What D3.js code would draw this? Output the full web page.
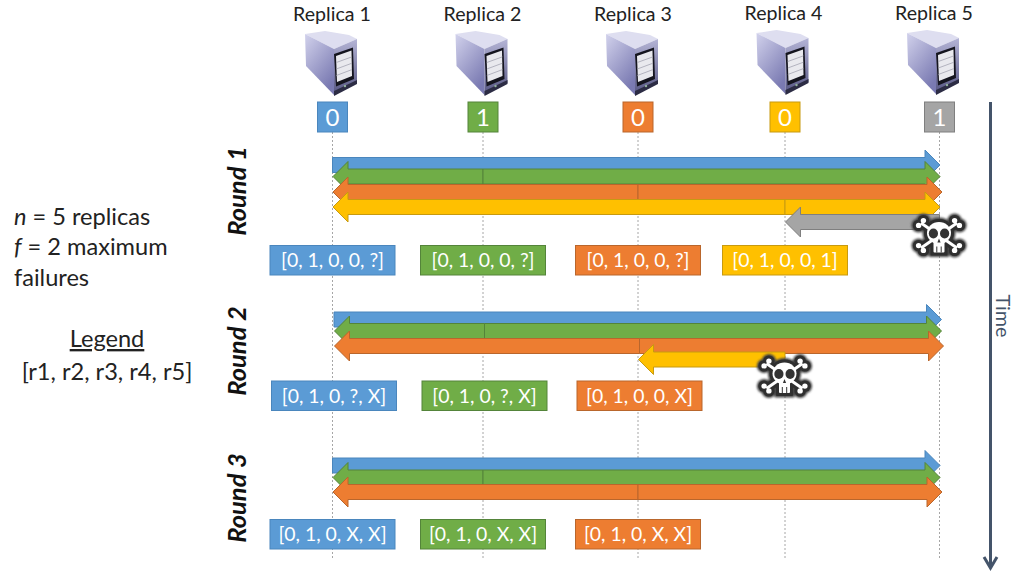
<!DOCTYPE html>
<html>
<head>
<meta charset="utf-8">
<script src="https://cdn.jsdelivr.net/npm/d3@7"></script>
<style>
  body { margin: 0; background: #fff; }
  text { font-family: Lato, "Open Sans", sans-serif; }
</style>
</head>
<body>
<svg id="svgRounds" width="1024" height="576"></svg>
<script>
// chart data
const replicas = ["Replica 1", "Replica 2", "Replica 3", "Replica 4", "Replica 5"];
const initialValues = [0, 1, 0, 0, 1];
const roundNames = ["Round 1", "Round 2", "Round 3"];
// [sender, receiver] index pairs, one arrow each
const round1Messages = [[0, 4], [1, 0], [1, 4], [2, 0], [2, 4], [3, 0], [3, 4], [4, 3]];
const round2Messages = [[0, 4], [1, 0], [1, 4], [2, 0], [2, 4], [3, 2]];
const round3Messages = [[0, 4], [1, 0], [1, 4], [2, 0], [2, 4]];
const round1Views = ["[0, 1, 0, 0, ?]", "[0, 1, 0, 0, ?]", "[0, 1, 0, 0, ?]", "[0, 1, 0, 0, 1]"];
const round2Views = ["[0, 1, 0, ?, X]", "[0, 1, 0, ?, X]", "[0, 1, 0, 0, X]"];
const round3Views = ["[0, 1, 0, X, X]", "[0, 1, 0, X, X]", "[0, 1, 0, X, X]"];
const failedReplica = [4, 3, null];

// layout
const fills = ["#5b9bd5", "#70ad47", "#ed7d31", "#ffc000", "#a5a5a5"];
const strokes = ["#4a86bd", "#54843a", "#b9662c", "#c79a10", "#7f7f7f"];
const replicaXs = [332.5, 483, 638, 785, 939.5];
const arrowRows = [[165, 176.5, 192, 207, 222], [319.5, 331, 346, 359.5], [465.5, 477.5, 492]];
const roundShift = [0, 1.5, 0];
const viewBoxTop = [245.5, 381, 519.5];
const skullY = [234.5, 375];
const roundLabelY = [191, 351, 498];

const svg = d3.select('#svgRounds');
const x = d3.scaleOrdinal().domain(replicas.map((d, i) => i)).range(replicaXs);
const headerX = d3.scalePoint().domain(replicas.map((d, i) => i)).range([332, 934]);

const defs = svg.append('defs');

const leftGrad = defs.append('linearGradient').attr('id', 'serverSide')
    .attr('x1', 0).attr('y1', 0).attr('x2', 0.6).attr('y2', 1);
leftGrad.append('stop').attr('offset', 0).attr('stop-color', '#d2d2ec');
leftGrad.append('stop').attr('offset', 1).attr('stop-color', '#7a7ab2');

const frontGrad = defs.append('linearGradient').attr('id', 'serverFront')
    .attr('x1', 0).attr('y1', 0).attr('x2', 0).attr('y2', 1);
frontGrad.append('stop').attr('offset', 0).attr('stop-color', '#b4b4d6');
frontGrad.append('stop').attr('offset', 1).attr('stop-color', '#565682');

defs.append('filter').attr('id', 'skullBlur')
    .attr('x', '-20%').attr('y', '-20%').attr('width', '140%').attr('height', '140%')
    .append('feGaussianBlur').attr('stdDeviation', 1.1);

// dashed replica timelines
svg.append('g').selectAll('line')
    .data(replicas.map((d, i) => i))
    .join('line')
    .attr('x1', d => x(d))
    .attr('x2', d => x(d))
    .attr('y1', 132)
    .attr('y2', 560)
    .style('stroke', '#a6a6a6')
    .style('stroke-width', 1)
    .style('stroke-dasharray', '2 2');

// header labels and servers
svg.append('g').selectAll('text')
    .data(replicas)
    .join('text')
    .attr('x', (d, i) => headerX(i))
    .attr('y', (d, i) => i > 2 ? 19.5 : 21)
    .attr('text-anchor', 'middle')
    .style('font-size', '19.6px')
    .style('fill', '#222')
    .text(d => d);

replicas.forEach((d, i) => drawServer(headerX(i) - 27, i > 2 ? 30 : 31));

function drawServer(px, py) {
    const g = svg.append('g').attr('transform', `translate(${px}, ${py})`);
    const shape = (points, fill) => g.append('path').attr('d', d3.line()(points) + 'Z').style('fill', fill);

    shape([[0, 3], [20, 0], [44, 4], [52, 8], [29, 18]], '#dedef0');
    shape([[0, 3], [29, 18], [29, 64], [1, 35]], 'url(#serverSide)');
    shape([[29, 18], [52, 8], [52, 52], [29, 64]], 'url(#serverFront)');
    shape([[29, 60], [52, 49], [52, 53], [29, 65]], '#2c2c44');
    // screen bezel and panel
    shape([[29, 23], [48, 16.5], [49, 48], [31, 55.5]], '#15151f');
    shape([[31, 25], [46.5, 19.5], [47, 45], [32, 51]], '#e9e9ee');
    [0.25, 0.5, 0.75].forEach(t => {
        g.append('line')
            .attr('x1', 31.3).attr('y1', 25 + 26 * t)
            .attr('x2', 46.8).attr('y2', 19.5 + 25.5 * t)
            .style('stroke', '#a5a5b2')
            .style('stroke-width', 0.8);
    });
    g.append('circle').attr('cx', 40).attr('cy', 55).attr('r', 1.2).style('fill', '#8fae9a');
}

// initial values
const valueBoxes = svg.append('g').selectAll('g')
    .data(initialValues)
    .join('g')
    .attr('transform', (d, i) => `translate(${x(i)}, 117)`);

valueBoxes.append('rect')
    .attr('x', -15).attr('y', -15)
    .attr('width', 30).attr('height', 30)
    .style('fill', (d, i) => fills[i])
    .style('stroke', (d, i) => strokes[i]);

valueBoxes.append('text')
    .attr('y', 8.5)
    .attr('text-anchor', 'middle')
    .style('font-size', '24px')
    .style('fill', '#fff')
    .text(d => d);

// arrows, one round at a time
function arrowPath(m, round) {
    const sender = m[0], receiver = m[1];
    const shift = failedReplica[round] === sender ? 0 : roundShift[round];
    const c = arrowRows[round][sender];
    const dir = receiver > sender ? 1 : -1;
    const tail = x(sender) + shift;
    const tip = x(receiver) + shift + (dir > 0 && sender === 2 ? 2 : 0) + 0.5;
    const base = tip - dir * 15;
    return d3.line()([
        [tail, c - 7.5], [base, c - 7.5], [base, c - 15], [tip, c],
        [base, c + 15], [base, c + 7.5], [tail, c + 7.5]
    ]) + 'Z';
}

[round1Messages, round2Messages, round3Messages].forEach((messages, round) => {
    svg.append('g').selectAll('path')
        .data(messages)
        .join('path')
        .attr('d', d => arrowPath(d, round))
        .style('fill', d => fills[d[0]])
        .style('stroke', d => strokes[d[0]])
        .style('stroke-width', 1);
});

// views after each round
[round1Views, round2Views, round3Views].forEach((views, round) => {
    const boxes = svg.append('g').selectAll('g')
        .data(views)
        .join('g')
        .attr('transform', (d, i) => `translate(${x(i) + roundShift[round]}, ${viewBoxTop[round]})`);

    boxes.append('rect')
        .attr('x', -62.5).attr('y', 0)
        .attr('width', 125).attr('height', 29.5)
        .style('fill', (d, i) => fills[i])
        .style('stroke', (d, i) => strokes[i]);

    boxes.append('text')
        .attr('y', 21.5)
        .attr('text-anchor', 'middle')
        .style('font-size', '19.4px')
        .style('fill', '#fff')
        .text(d => d);
});

// skulls on the failed replicas
failedReplica.forEach((r, round) => {
    if(r !== null) drawSkull(x(r) - 0.5, skullY[round]);
});

function drawSkull(cx, cy) {
    const g = svg.append('g').attr('transform', `translate(${cx}, ${cy})`);
    const bones = [[-1, -1], [1, -1], [-1, 1], [1, 1]];

    const layer = (parent, color, grow) => {
        bones.forEach(b => {
            const ex = b[0] * 18, ey = b[1] * 12.5 + 1;
            parent.append('line')
                .attr('x1', 0).attr('y1', 1).attr('x2', ex).attr('y2', ey)
                .style('stroke', color)
                .style('stroke-width', 3 + grow * 2);
            parent.append('circle').attr('cx', ex - b[0] * 2.4).attr('cy', ey + b[1] * 2.4).attr('r', 2.7 + grow).style('fill', color);
            parent.append('circle').attr('cx', ex + b[0] * 2.4).attr('cy', ey - b[1] * 2.4).attr('r', 2.7 + grow).style('fill', color);
        });
        parent.append('ellipse').attr('cx', 0).attr('cy', -1.5).attr('rx', 12 + grow).attr('ry', 11 + grow).style('fill', color);
        parent.append('rect').attr('x', -5.5 - grow).attr('y', 5).attr('width', 11 + grow * 2).attr('height', 13 + grow).attr('rx', 1).style('fill', color);
    };

    layer(g.append('g').style('filter', 'url(#skullBlur)'), '#444', 4.5);
    layer(g.append('g'), '#2f2f2f', 3);
    layer(g.append('g'), '#ffffff', 0);

    [-1, 1].forEach(s => {
        g.append('ellipse').attr('cx', s * 5.6).attr('cy', -1).attr('rx', 4.6).attr('ry', 5).style('fill', '#333');
    });
    g.append('path').attr('d', 'M0,4L-1.6,8L1.6,8Z').style('fill', '#333');
    [-2.2, 2.2].forEach(t => {
        g.append('line')
            .attr('x1', t).attr('x2', t).attr('y1', 12).attr('y2', 18)
            .style('stroke', '#333')
            .style('stroke-width', 1);
    });
}

// left hand notes
const notes = svg.append('g').style('font-size', '23.6px').style('fill', '#222');

const line1 = notes.append('text').attr('x', 14).attr('y', 225);
line1.append('tspan').style('font-style', 'italic').text('n');
line1.append('tspan').text(' = 5 replicas');

const line2 = notes.append('text').attr('x', 14).attr('y', 255);
line2.append('tspan').style('font-style', 'italic').text('f');
line2.append('tspan').text(' = 2 maximum');

notes.append('text').attr('x', 14).attr('y', 286).text('failures');

notes.append('text')
    .attr('x', 107).attr('y', 347)
    .attr('text-anchor', 'middle')
    .style('text-decoration', 'underline')
    .text('Legend');

notes.append('text')
    .attr('x', 107).attr('y', 380)
    .attr('text-anchor', 'middle')
    .text('[r1, r2, r3, r4, r5]');

// round labels
svg.append('g').selectAll('text')
    .data(roundNames)
    .join('text')
    .attr('transform', (d, i) => `translate(246, ${roundLabelY[i]}) rotate(-90)`)
    .attr('text-anchor', 'middle')
    .style('font-size', '25.5px')
    .style('font-weight', '700')
    .style('font-style', 'italic')
    .style('fill', '#111')
    .text(d => d);

// time axis
const timeScale = d3.scaleLinear().domain([0, 1]).range([102, 568]);

svg.append('line')
    .attr('x1', 990.5).attr('x2', 990.5)
    .attr('y1', timeScale(0)).attr('y2', timeScale(1))
    .style('stroke', '#44546a')
    .style('stroke-width', 3);

svg.append('path')
    .attr('d', d3.line()([[984, timeScale(1) - 11], [990.5, timeScale(1)], [997, timeScale(1) - 11]]))
    .style('fill', 'none')
    .style('stroke', '#44546a')
    .style('stroke-width', 3);

svg.append('text')
    .attr('transform', 'translate(996, 316) rotate(90)')
    .attr('text-anchor', 'middle')
    .style('font-size', '19.8px')
    .style('fill', '#44546a')
    .text('Time');
</script>
</body>
</html>
